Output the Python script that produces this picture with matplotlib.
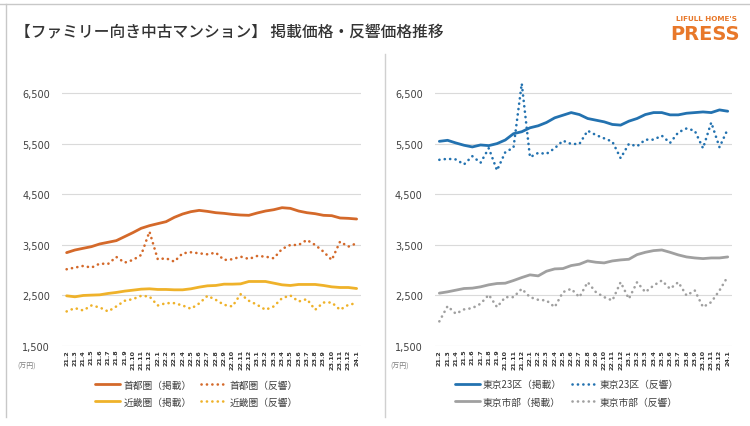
import matplotlib
matplotlib.use("Agg")
import matplotlib.pyplot as plt
from matplotlib.lines import Line2D

plt.rcParams['font.family'] = ['Noto Sans CJK JP', 'DejaVu Sans']

months = ["21.2", "21.3", "21.4", "21.5", "21.6", "21.7", "21.8", "21.9", "21.10", "21.11", "21.12",
          "22.1", "22.2", "22.3", "22.4", "22.5", "22.6", "22.7", "22.8", "22.9", "22.10", "22.11", "22.12",
          "23.1", "23.2", "23.3", "23.4", "23.5", "23.6", "23.7", "23.8", "23.9", "23.10", "23.11", "23.12",
          "24.1"]

shuto_listed = [3348, 3400, 3434, 3467, 3520, 3553, 3586, 3665, 3744, 3830, 3882, 3922,
                3961, 4047, 4113, 4159, 4185, 4165, 4139, 4126, 4106, 4093, 4087, 4133,
                4172, 4198, 4238, 4225, 4172, 4139, 4119, 4087, 4080, 4034, 4027, 4014]
shuto_resp = [3019, 3052, 3085, 3052, 3131, 3124, 3263, 3150, 3203, 3302, 3764, 3217,
              3236, 3170, 3335, 3355, 3335, 3315, 3348, 3203, 3217, 3269, 3223, 3282,
              3269, 3236, 3421, 3500, 3500, 3599, 3500, 3368, 3203, 3566, 3467, 3533]
kinki_listed = [2493, 2474, 2500, 2507, 2513, 2540, 2560, 2586, 2605, 2625, 2632, 2619,
                2619, 2612, 2612, 2632, 2665, 2691, 2698, 2724, 2724, 2730, 2777, 2777,
                2777, 2744, 2711, 2698, 2718, 2718, 2718, 2698, 2671, 2658, 2658, 2638]
kinki_resp = [2184, 2250, 2203, 2302, 2263, 2184, 2283, 2395, 2428, 2493, 2480, 2302,
              2348, 2348, 2302, 2237, 2342, 2493, 2414, 2315, 2283, 2526, 2395, 2315,
              2217, 2283, 2447, 2500, 2381, 2428, 2217, 2361, 2361, 2217, 2315, 2348]

tokyo23_listed = [5552, 5572, 5520, 5474, 5441, 5480, 5467, 5507, 5578, 5703, 5742, 5820,
                  5860, 5925, 6017, 6069, 6121, 6082, 6004, 5971, 5938, 5886, 5873, 5951,
                  6004, 6082, 6121, 6121, 6076, 6076, 6108, 6121, 6134, 6121, 6174, 6148]
tokyo23_resp = [5186, 5206, 5193, 5095, 5258, 5127, 5415, 4977, 5336, 5428, 6697, 5238,
                5323, 5304, 5415, 5565, 5500, 5500, 5762, 5677, 5611, 5546, 5219, 5500,
                5454, 5585, 5585, 5664, 5520, 5729, 5807, 5762, 5415, 5925, 5435, 5794]
shibu_listed = [2546, 2572, 2605, 2638, 2645, 2671, 2711, 2737, 2743, 2796, 2855, 2908,
                2888, 2980, 3026, 3033, 3092, 3119, 3184, 3158, 3145, 3184, 3204, 3217,
                3309, 3355, 3388, 3401, 3355, 3303, 3263, 3243, 3230, 3243, 3243, 3263]
shibu_resp = [1987, 2289, 2138, 2224, 2250, 2336, 2513, 2270, 2467, 2467, 2632, 2467,
              2414, 2401, 2270, 2566, 2632, 2467, 2763, 2566, 2467, 2401, 2763, 2434,
              2763, 2566, 2697, 2796, 2632, 2763, 2500, 2599, 2270, 2368, 2599, 2875]

yticks = [1500, 2500, 3500, 4500, 5500, 6500]

C_SHUTO = "#D4692A"
C_KINKI = "#EFB22A"
C_T23 = "#2372B0"
C_SHIBU = "#A0A0A0"

fig = plt.figure(figsize=(7.5, 4.27), dpi=100)
fig.patch.set_facecolor("white")

dot_style = (0, (0.05, 2.0))


def make_panel(rect, series, legend_x):
    ax = fig.add_axes(rect)
    x = list(range(len(months)))
    handles = []
    for vals, color, ls, label in series:
        if ls == "solid":
            h, = ax.plot(x, vals, color=color, lw=2.0, solid_capstyle="round", label=label)
        else:
            h, = ax.plot(x, vals, color=color, lw=1.9, linestyle=dot_style,
                         dash_capstyle="round", label=label)
        handles.append(h)
    ax.set_xlim(-0.5, len(months) - 0.5)
    ax.set_ylim(1500, 6800)
    ax.set_yticks(yticks)
    ax.set_yticklabels([f"{v:,}" for v in yticks], fontsize=7, color="#404040",
                       family=["DejaVu Sans"])
    ax.set_xticks(x)
    ax.set_xticklabels(months, rotation=90, fontsize=4.6, fontweight="bold", color="#333333",
                       family=["DejaVu Sans"])
    ax.tick_params(axis="y", length=0, pad=9)
    ax.tick_params(axis="x", length=0, pad=2)
    ax.grid(axis="y", color="#DADADA", lw=0.8)
    ax.set_axisbelow(True)
    for s in ax.spines.values():
        s.set_visible(False)
    ax.text(-0.15, -0.075, "(万円)", transform=ax.transAxes, fontsize=5, color="#7F7F7F",
            ha="left", va="center")
    order = [handles[0], handles[2], handles[1], handles[3]]
    leg = fig.legend(order, [h.get_label() for h in order], ncol=2, loc="center",
                     bbox_to_anchor=(legend_x, 0.077), frameon=False, fontsize=7.0,
                     handlelength=2.6, handletextpad=0.3, columnspacing=1.0,
                     labelspacing=0.75)
    for t in leg.get_texts():
        t.set_color("#404040")
    return ax


make_panel([0.0833, 0.1874, 0.3977, 0.6269],
           [(shuto_listed, C_SHUTO, "solid", "首都圏（掲載）"),
            (shuto_resp, C_SHUTO, "dot", "首都圏（反響）"),
            (kinki_listed, C_KINKI, "solid", "近畿圏（掲載）"),
            (kinki_resp, C_KINKI, "dot", "近畿圏（反響）")],
           0.262)

make_panel([0.5803, 0.1874, 0.3955, 0.6269],
           [(tokyo23_listed, C_T23, "solid", "東京23区（掲載）"),
            (tokyo23_resp, C_T23, "dot", "東京23区（反響）"),
            (shibu_listed, C_SHIBU, "solid", "東京市部（掲載）"),
            (shibu_resp, C_SHIBU, "dot", "東京市部（反響）")],
           0.756)

# frame lines and divider
fig.add_artist(Line2D([0, 1], [1 - 5 / 427, 1 - 5 / 427], color="#C8C8C8", lw=1.0))
fig.add_artist(Line2D([6 / 750, 6 / 750], [1 - 5 / 427, 0.02], color="#C8C8C8", lw=1.0))
fig.add_artist(Line2D([385 / 750, 385 / 750], [1 - 55 / 427, 1 - 418 / 427], color="#D0D0D0", lw=1.0))

fig.text(15 / 750, 1 - 33 / 427, "【ファミリー向き中古マンション】 掲載価格・反響価格推移",
         fontsize=11.3, color="#333333", ha="left", va="center", fontweight="medium")

fig.text(707 / 750, 1 - 19 / 427, "LIFULL HOME'S", fontsize=5.2, color="#E8782A",
         ha="center", va="center", fontweight="bold", family=["DejaVu Sans"])
fig.text(705 / 750, 1 - 34 / 427, "PRESS", fontsize=14, color="#E8782A",
         ha="center", va="center", fontweight="bold", family=["DejaVu Sans"])

fig.savefig("out.png", dpi=100, facecolor="white")
